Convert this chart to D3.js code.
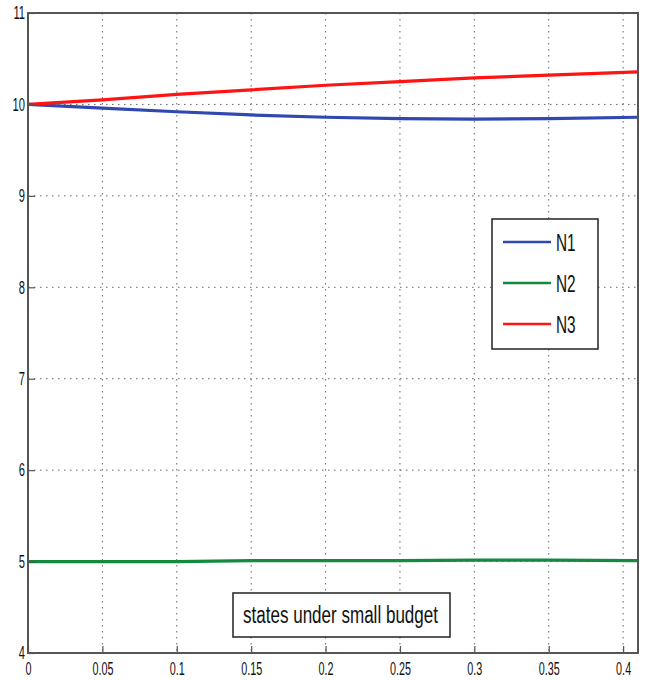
<!DOCTYPE html>
<html>
<head>
<meta charset="utf-8">
<script src="https://cdn.jsdelivr.net/npm/d3@7"></script>
<style>
  html, body { margin: 0; padding: 0; background: #fff; }
  svg text { font-family: "Liberation Sans", Arial, sans-serif; fill: #111; }
</style>
</head>
<body>
<svg id="chart" width="646" height="680"></svg>
<script>
// Budget values along the horizontal axis
const budget = [0, 0.05, 0.1, 0.15, 0.2, 0.25, 0.3, 0.35, 0.41];
// State trajectories
const n1 = [10.0, 9.96, 9.92, 9.885, 9.86, 9.845, 9.84, 9.845, 9.86];
const n2 = [5.0, 5.0, 5.0, 5.01, 5.01, 5.01, 5.015, 5.015, 5.01];
const n3 = [10.0, 10.05, 10.11, 10.16, 10.21, 10.25, 10.29, 10.32, 10.355];
const seriesNames = ["N1", "N2", "N3"];
const seriesColors = ["#3048b0", "#138a3e", "#ff1414"];
const xTicks = [0, 0.05, 0.1, 0.15, 0.2, 0.25, 0.3, 0.35, 0.4];
const xTickLabels = ["0", "0.05", "0.1", "0.15", "0.2", "0.25", "0.3", "0.35", "0.4"];
const yTicks = [4, 5, 6, 7, 8, 9, 10, 11];
const annotation = "states under small budget";

const svg = d3.select("#chart");
const plotLeft = 28, plotRight = 638, plotTop = 13, plotBottom = 653;
const x = d3.scaleLinear().domain([0, 0.41]).range([plotLeft, plotRight]);
const y = d3.scaleLinear().domain([4, 11]).range([plotBottom, plotTop]);

// squeeze text horizontally to get a condensed face
function condense(sel, factor) {
  sel.each(function () {
    const w = this.getComputedTextLength();
    d3.select(this).attr("textLength", w * factor).attr("lengthAdjust", "spacingAndGlyphs");
  });
}

// dotted grid
const grid = svg.append("g");
grid.selectAll("line.vx").data(xTicks.slice(1)).join("line")
  .attr("x1", d => x(d)).attr("x2", d => x(d))
  .attr("y1", plotTop).attr("y2", plotBottom)
  .attr("stroke", "#666").attr("stroke-width", 1).attr("stroke-dasharray", "1.5,4.5");
grid.selectAll("line.hy").data(yTicks.slice(1, -1)).join("line")
  .attr("x1", plotLeft).attr("x2", plotRight)
  .attr("y1", d => y(d)).attr("y2", d => y(d))
  .attr("stroke", "#666").attr("stroke-width", 1).attr("stroke-dasharray", "1.5,4.5");

// data lines
const line = d3.line().x((d, i) => x(budget[i])).y(d => y(d));
[n1, n2, n3].forEach((s, k) => {
  svg.append("path").datum(s)
    .attr("fill", "none").attr("stroke", seriesColors[k])
    .attr("stroke-width", 3.2).attr("d", line);
});

// axes
const xAxis = d3.axisBottom(x).tickValues(xTicks)
  .tickFormat((d, i) => xTickLabels[i]).tickSizeInner(-7).tickSizeOuter(0).tickPadding(9);
const gx = svg.append("g").attr("transform", `translate(0,${plotBottom})`).call(xAxis);
const yAxis = d3.axisLeft(y).tickValues(yTicks).tickFormat(d3.format("d"))
  .tickSizeInner(-7).tickSizeOuter(0).tickPadding(3);
const gy = svg.append("g").attr("transform", `translate(${plotLeft},0)`).call(yAxis);
[gx, gy].forEach(g => {
  g.selectAll("path.domain").remove();
  g.selectAll(".tick line").attr("stroke", "#555").attr("stroke-width", 1.2);
  g.selectAll(".tick text").attr("font-size", 18)
    .style("font-family", "'Liberation Sans', Arial, sans-serif")
    .attr("fill", "#1a1a1a");
});
condense(gx.selectAll(".tick text"), 0.6);
condense(gy.selectAll(".tick text"), 0.62);

// frame
svg.append("rect").attr("x", plotLeft).attr("y", plotTop)
  .attr("width", plotRight - plotLeft).attr("height", plotBottom - plotTop)
  .attr("fill", "none").attr("stroke", "#555").attr("stroke-width", 2);

// legend
const lg = svg.append("g");
lg.append("rect").attr("x", 492).attr("y", 219).attr("width", 106).attr("height", 130)
  .attr("fill", "#fff").attr("stroke", "#222").attr("stroke-width", 1.5);
seriesNames.forEach((name, i) => {
  const yy = 242 + i * 41;
  lg.append("line").attr("x1", 503).attr("x2", 551).attr("y1", yy).attr("y2", yy)
    .attr("stroke", seriesColors[i]).attr("stroke-width", 2.5);
  lg.append("text").attr("x", 556).attr("y", yy + 9).attr("font-size", 24).text(name);
});
condense(lg.selectAll("text"), 0.64);

// annotation box
const ab = svg.append("g");
ab.append("rect").attr("x", 233).attr("y", 593).attr("width", 217).attr("height", 44)
  .attr("fill", "#fff").attr("stroke", "#222").attr("stroke-width", 1.5);
const at = ab.append("text").attr("x", 243).attr("y", 623)
  .attr("font-size", 23).text(annotation);
at.attr("textLength", 195).attr("lengthAdjust", "spacingAndGlyphs");
</script>
</body>
</html>
